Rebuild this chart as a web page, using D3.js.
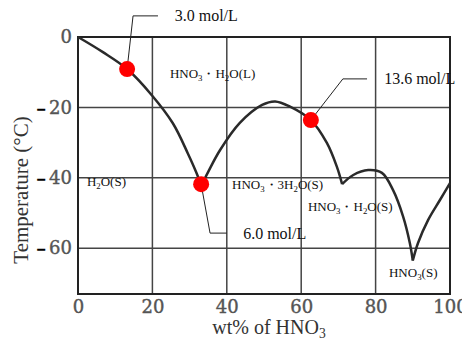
<!DOCTYPE html>
<html>
<head>
<meta charset="utf-8">
<script src="https://cdn.jsdelivr.net/npm/d3@7"></script>
<style>
  body { margin: 0; background: #fff; }
  svg { display: block; }
</style>
</head>
<body>
<div id="chart"></div>
<script>
// freezing-point branches (wt% HNO3, temperature °C)
const iceBranch = [[0, 0], [6.7, -4.3], [13.2, -9.1], [19.9, -16.6], [25.5, -24.5], [29.5, -33], [32, -39], [33.1, -42.3]];
const trihydrateBranch = [[33.1, -42.3], [35, -38.3], [38.2, -32.1], [43.5, -24.4], [49.5, -19.3], [53, -18.3], [57, -19.8], [62.6, -23.6], [66.9, -30.1], [69.6, -36.9], [71, -41.8]];
const monohydrateBranch = [[71, -41.8], [74, -39.2], [78, -37.8], [81.7, -38.6], [84.7, -43.5], [87.4, -51], [89.2, -58.5], [90, -63.5]];
const acidBranch = [[90, -63.5], [91.4, -58.5], [94.1, -52], [97.3, -46.3], [100, -41.5]];

const xTicks = [0, 20, 40, 60, 80, 100];
const yTicks = [0, -20, -40, -60];

// marked solutions
const molLabels = ['3.0 mol/L', '6.0 mol/L', '13.6 mol/L'];
const molWt = [13.2, 33.1, 62.6];
const molTemp = [-9.1, -41.8, -23.6];
// leader elbow and label anchor (data units)
const elbowWt = [14.8, 35.5, 71.2];
const elbowTemp = [6.0, -55.7, -11.9];
const leaderEndWt = [21.5, 40, 77.7];
const labelWt = [26, 44.4, 82.3];

// phase regions
const phaseLabels = ['HNO3・H2O(L)', 'H2O(S)', 'HNO3・3H2O(S)', 'HNO3・H2O(S)', 'HNO3(S)'];
const phaseWt = [24.7, 2.4, 41.4, 61.8, 83.6];
const phaseTemp = [-11.6, -42.3, -43.2, -49.4, -68.2];

const W = 462, H = 344;
const margin = { top: 37, right: 12, bottom: 50, left: 78 };
const width = W - margin.left - margin.right;
const height = H - margin.top - margin.bottom;

const svg = d3.select('#chart').append('svg')
  .attr('width', W)
  .attr('height', H);

const g = svg.append('g')
  .attr('transform', `translate(${margin.left},${margin.top})`);

const x = d3.scaleLinear().domain([0, 100]).range([0, width]);
const y = d3.scaleLinear().domain([0, -73]).range([0, height]);

// writes chemical formulas: a digit right after a letter becomes a subscript
function formula(sel, str, size) {
  const shift = size * 0.22;
  let prevLetter = false;
  let buf = '';
  let pending = 0;
  const flush = () => {
    if (buf) {
      sel.append('tspan').attr('dy', pending).text(buf);
      buf = '';
      pending = 0;
    }
  };
  for (const ch of str) {
    if (/[0-9]/.test(ch) && prevLetter) {
      flush();
      sel.append('tspan').attr('font-size', size * 0.68).attr('dy', shift + pending).text(ch);
      pending = -shift;
    } else {
      buf += ch;
    }
    prevLetter = /[A-Za-z]/.test(ch);
  }
  flush();
}

// grid
g.append('g').selectAll('line')
  .data(xTicks.slice(1, -1))
  .join('line')
  .attr('x1', d => x(d)).attr('x2', d => x(d))
  .attr('y1', 0).attr('y2', height)
  .attr('stroke', '#444').attr('stroke-width', 1.5);

g.append('g').selectAll('line')
  .data(yTicks.slice(1))
  .join('line')
  .attr('x1', 0).attr('x2', width)
  .attr('y1', d => y(d)).attr('y2', d => y(d))
  .attr('stroke', '#444').attr('stroke-width', 1.5);

g.append('rect')
  .attr('width', width).attr('height', height)
  .attr('fill', 'none').attr('stroke', '#222').attr('stroke-width', 2);

// axes
const tickFont = '"DejaVu Serif", serif';
const xAxis = g.append('g')
  .attr('transform', `translate(0,${height})`)
  .call(d3.axisBottom(x).tickValues(xTicks).tickSize(0).tickPadding(6));
xAxis.select('.domain').remove();
xAxis.selectAll('text')
  .attr('font-family', tickFont).attr('font-size', 18).attr('fill', '#555')
  .attr('stroke', '#555').attr('stroke-width', 0.4)
  .attr('dy', '0.71em');

const yAxis = g.append('g')
  .call(d3.axisLeft(y).tickValues(yTicks).tickSize(0).tickPadding(6).tickFormat(d => ''));
yAxis.select('.domain').remove();
yAxis.selectAll('text')
  .attr('font-family', tickFont).attr('font-size', 18).attr('fill', '#555')
  .each(function (d) {
    const t = d3.select(this);
    if (d < 0) {
      // the scan shows a heavy black minus sign set apart from the digits
      t.append('tspan').attr('fill', '#000').attr('font-family', '"DejaVu Sans Mono", monospace')
        .attr('font-size', 13).text('━');
      t.append('tspan').attr('dx', 4).attr('stroke', '#555').attr('stroke-width', 0.4).text(Math.abs(d));
    } else {
      t.append('tspan').attr('stroke', '#555').attr('stroke-width', 0.4).text(d);
    }
  });

// curves
const line = d3.line()
  .x(d => x(d[0]))
  .y(d => y(d[1]))
  .curve(d3.curveCatmullRom.alpha(0.5));

g.append('g').selectAll('path')
  .data([iceBranch, trihydrateBranch, monohydrateBranch, acidBranch])
  .join('path')
  .attr('d', line)
  .attr('fill', 'none')
  .attr('stroke', '#2a2a2a')
  .attr('stroke-width', 2.5);

// phase labels
const serif = '"Liberation Serif", "Times New Roman", serif';
phaseLabels.forEach((p, i) => {
  const t = g.append('text')
    .attr('x', x(phaseWt[i])).attr('y', y(phaseTemp[i]))
    .attr('dy', '0.35em')
    .attr('font-family', serif).attr('font-size', 13).attr('fill', '#111');
  formula(t, p, 13);
});

// leaders + concentration labels
molLabels.forEach((m, i) => {
  g.append('polyline')
    .attr('points', [[x(molWt[i]), y(molTemp[i])], [x(elbowWt[i]), y(elbowTemp[i])], [x(leaderEndWt[i]), y(elbowTemp[i])]].join(' '))
    .attr('fill', 'none').attr('stroke', '#222').attr('stroke-width', 1);
  g.append('text')
    .attr('x', x(labelWt[i])).attr('y', y(elbowTemp[i]))
    .attr('dy', '0.35em')
    .attr('font-family', serif).attr('font-size', 16).attr('fill', '#111')
    .text(m);
});

g.append('g').selectAll('circle')
  .data(molWt)
  .join('circle')
  .attr('cx', d => x(d))
  .attr('cy', (d, i) => y(molTemp[i]))
  .attr('r', 8)
  .attr('fill', '#ff0000');

// axis titles
const xt = svg.append('text')
  .attr('x', 269).attr('y', 334)
  .attr('text-anchor', 'middle')
  .attr('font-family', serif).attr('font-size', 20).attr('fill', '#333');
formula(xt, 'wt% of HNO3', 20);

svg.append('text')
  .attr('transform', 'translate(28,190) rotate(-90)')
  .attr('text-anchor', 'middle')
  .attr('font-family', serif).attr('font-size', 21).attr('fill', '#333')
  .text('Temperature (°C)');
</script>
</body>
</html>
